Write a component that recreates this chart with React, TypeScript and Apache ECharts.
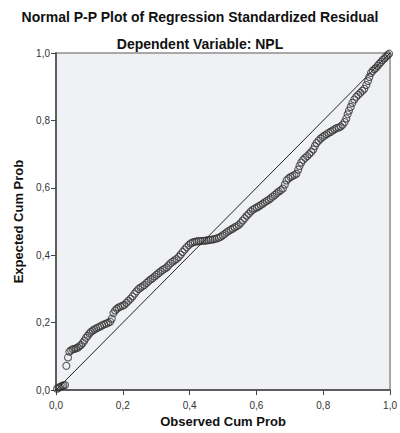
import React, { useEffect, useRef } from "react";
import * as echarts from "echarts";

const titleText = "Normal P-P Plot of Regression Standardized Residual";
const subtitleText = "Dependent Variable: NPL";
const xAxisName = "Observed Cum Prob";
const yAxisName = "Expected Cum Prob";

// Observed cumulative probability (x)
const observed = [
  0.003, 0.008, 0.012, 0.017, 0.022, 0.027, 0.031, 0.036, 0.040, 0.045,
  0.050, 0.055, 0.060, 0.065, 0.070, 0.075, 0.080, 0.085, 0.090, 0.095,
  0.100, 0.105, 0.110, 0.115, 0.120, 0.126, 0.132, 0.138, 0.144, 0.150,
  0.156, 0.162, 0.167, 0.172, 0.177, 0.182, 0.187, 0.193, 0.199, 0.205,
  0.211, 0.217, 0.223, 0.229, 0.235, 0.241, 0.247, 0.253, 0.259, 0.265,
  0.271, 0.277, 0.283, 0.289, 0.295, 0.301, 0.307, 0.313, 0.319, 0.325,
  0.331, 0.337, 0.343, 0.349, 0.355, 0.361, 0.367, 0.373, 0.379, 0.385,
  0.391, 0.397, 0.403, 0.409, 0.415, 0.421, 0.427, 0.433, 0.439, 0.445,
  0.451, 0.457, 0.463, 0.469, 0.475, 0.481, 0.487, 0.493, 0.499, 0.505,
  0.511, 0.517, 0.523, 0.529, 0.535, 0.541, 0.547, 0.553, 0.559, 0.565,
  0.571, 0.577, 0.583, 0.589, 0.595, 0.601, 0.607, 0.613, 0.619, 0.625,
  0.631, 0.637, 0.643, 0.649, 0.655, 0.661, 0.667, 0.673, 0.679, 0.685,
  0.690, 0.696, 0.702, 0.708, 0.714, 0.720, 0.725, 0.729, 0.734, 0.740,
  0.746, 0.752, 0.758, 0.764, 0.770, 0.775, 0.780, 0.786, 0.792, 0.798,
  0.804, 0.810, 0.816, 0.822, 0.828, 0.834, 0.840, 0.846, 0.852, 0.858,
  0.864, 0.869, 0.873, 0.877, 0.882, 0.887, 0.893, 0.899, 0.905, 0.911,
  0.917, 0.923, 0.929, 0.934, 0.938, 0.943, 0.948, 0.953, 0.958, 0.963,
  0.968, 0.973, 0.978, 0.983, 0.988, 0.993, 0.997,
];

// Expected cumulative probability (y)
const expected = [
  0.004, 0.007, 0.010, 0.012, 0.014, 0.015, 0.072, 0.097, 0.114, 0.118,
  0.121, 0.122, 0.124, 0.126, 0.130, 0.134, 0.140, 0.147, 0.155, 0.161,
  0.168, 0.173, 0.177, 0.180, 0.183, 0.186, 0.189, 0.192, 0.195, 0.197,
  0.200, 0.203, 0.212, 0.228, 0.236, 0.241, 0.245, 0.248, 0.250, 0.253,
  0.259, 0.265, 0.271, 0.278, 0.286, 0.293, 0.300, 0.304, 0.308, 0.312,
  0.318, 0.323, 0.328, 0.332, 0.337, 0.342, 0.347, 0.352, 0.356, 0.360,
  0.364, 0.370, 0.376, 0.381, 0.385, 0.389, 0.395, 0.402, 0.410, 0.417,
  0.424, 0.430, 0.435, 0.438, 0.440, 0.441, 0.442, 0.442, 0.443, 0.443,
  0.444, 0.445, 0.446, 0.447, 0.448, 0.450, 0.452, 0.455, 0.459, 0.463,
  0.468, 0.472, 0.476, 0.479, 0.483, 0.486, 0.490, 0.496, 0.503, 0.510,
  0.517, 0.523, 0.530, 0.535, 0.539, 0.542, 0.545, 0.549, 0.553, 0.557,
  0.561, 0.565, 0.569, 0.574, 0.579, 0.584, 0.589, 0.593, 0.598, 0.610,
  0.622, 0.628, 0.632, 0.635, 0.638, 0.642, 0.654, 0.665, 0.675, 0.683,
  0.689, 0.694, 0.700, 0.706, 0.714, 0.724, 0.733, 0.740, 0.746, 0.751,
  0.755, 0.759, 0.763, 0.766, 0.770, 0.774, 0.777, 0.779, 0.782, 0.787,
  0.795, 0.806, 0.818, 0.829, 0.840, 0.852, 0.862, 0.870, 0.876, 0.882,
  0.888, 0.894, 0.905, 0.917, 0.929, 0.941, 0.947, 0.952, 0.956, 0.962,
  0.968, 0.973, 0.979, 0.984, 0.989, 0.994, 0.998,
];

const diagonal = [
  [0, 0],
  [1, 1],
];

const FONT = "'Liberation Sans', Arial, sans-serif";

export default function App() {
  const ref = useRef<HTMLDivElement>(null);

  useEffect(() => {
    if (!ref.current) return;
    const chart = echarts.init(ref.current, undefined, { renderer: "svg" });
    const points = observed.map((x, i) => [x, expected[i]]);
    const fmt = (v: number) => v.toFixed(1).replace(".", ",");

    chart.setOption({
      animation: false,
      backgroundColor: "#ffffff",
      title: [
        {
          text: titleText,
          left: "center",
          top: 5,
          textStyle: { fontFamily: FONT, fontSize: 14, fontWeight: "bold", color: "#111" },
        },
        {
          text: subtitleText,
          left: "center",
          top: 32,
          textStyle: { fontFamily: FONT, fontSize: 14, fontWeight: "bold", color: "#111" },
        },
      ],
      grid: {
        left: 56,
        right: 7,
        top: 53,
        bottom: 41,
        show: true,
        backgroundColor: "#F0F1F4",
        borderColor: "#8f8f8f",
        borderWidth: 1.5,
      },
      xAxis: {
        type: "value",
        min: 0,
        max: 1,
        interval: 0.2,
        name: xAxisName,
        nameLocation: "middle",
        nameGap: 18,
        nameTextStyle: { fontFamily: FONT, fontSize: 13, fontWeight: "bold", color: "#111" },
        axisLine: { show: true, lineStyle: { color: "#444", width: 1.5 } },
        axisTick: { show: true, length: 5, lineStyle: { color: "#444", width: 1 } },
        axisLabel: {
          formatter: fmt,
          fontFamily: FONT,
          fontSize: 10,
          color: "#333",
          margin: 10,
        },
        splitLine: { show: false },
      },
      yAxis: {
        type: "value",
        min: 0,
        max: 1,
        interval: 0.2,
        name: yAxisName,
        nameLocation: "middle",
        nameGap: 29,
        nameRotate: 90,
        nameTextStyle: { fontFamily: FONT, fontSize: 13, fontWeight: "bold", color: "#111" },
        axisLine: { show: true, lineStyle: { color: "#444", width: 1.5 } },
        axisTick: { show: true, length: 5, lineStyle: { color: "#444", width: 1 } },
        axisLabel: {
          formatter: fmt,
          fontFamily: FONT,
          fontSize: 10,
          color: "#333",
          margin: 6,
        },
        splitLine: { show: false },
      },
      series: [
        {
          type: "line",
          data: diagonal,
          showSymbol: false,
          symbol: "none",
          lineStyle: { color: "#222", width: 1 },
          silent: true,
          z: 3,
        },
        {
          type: "scatter",
          data: points,
          symbol: "circle",
          symbolSize: 7,
          itemStyle: {
            color: "rgba(0,0,0,0)",
            borderColor: "#333",
            borderWidth: 1.1,
          },
          z: 2,
        },
      ],
    });

    return () => chart.dispose();
  }, []);

  return (
    <div
      ref={ref}
      style={{ position: "fixed", left: 0, top: 0, width: 400, height: 433 }}
    />
  );
}
